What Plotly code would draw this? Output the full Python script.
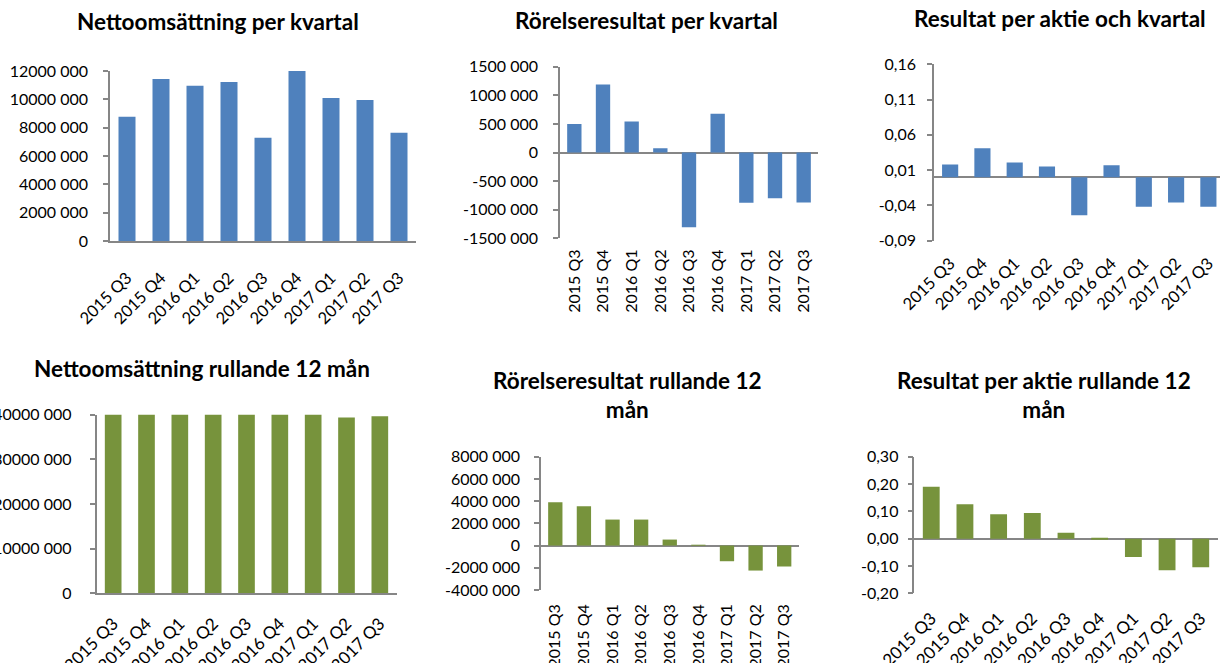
import plotly.graph_objects as go

W, H = 1220, 663

quarters = ["2015 Q3", "2015 Q4", "2016 Q1", "2016 Q2", "2016 Q3",
            "2016 Q4", "2017 Q1", "2017 Q2", "2017 Q3"]

netto_kvartal = [8770000, 11440000, 10960000, 11220000, 7290000,
                 12050000, 10090000, 9950000, 7650000]
rorelse_kvartal = [500000, 1190000, 540000, 75000, -1305000,
                   676000, -880000, -800000, -874000]
eps_kvartal = [0.018, 0.041, 0.021, 0.015, -0.054, 0.017, -0.042, -0.036, -0.042]

netto_rull = [40600000, 41200000, 41600000, 42100000, 40900000,
              41500000, 40700000, 39370000, 39660000]
rorelse_rull = [3910000, 3550000, 2340000, 2340000, 540000,
                -10000, -1410000, -2250000, -1890000]
eps_rull = [0.19, 0.126, 0.089, 0.094, 0.022, -0.002, -0.067, -0.116, -0.105]

y1_vals = [0, 2000000, 4000000, 6000000, 8000000, 10000000, 12000000]
y1_text = ["0", "2000 000", "4000 000", "6000 000", "8000 000", "10000 000", "12000 000"]
y2_vals = [-1500000, -1000000, -500000, 0, 500000, 1000000, 1500000]
y2_text = ["-1500 000", "-1000 000", "-500 000", "0", "500 000", "1000 000", "1500 000"]
y3_vals = [-0.09, -0.04, 0.01, 0.06, 0.11, 0.16]
y3_text = ["-0,09", "-0,04", "0,01", "0,06", "0,11", "0,16"]
y4_vals = [0, 10000000, 20000000, 30000000, 40000000]
y4_text = ["0", "10000 000", "20000 000", "30000 000", "40000 000"]
y5_vals = [-4000000, -2000000, 0, 2000000, 4000000, 6000000, 8000000]
y5_text = ["-4000 000", "-2000 000", "0", "2000 000", "4000 000", "6000 000", "8000 000"]
y6_vals = [-0.2, -0.1, 0.0, 0.1, 0.2, 0.3]
y6_text = ["-0,20", "-0,10", "0,00", "0,10", "0,20", "0,30"]

titles = [
    "Nettoomsättning per kvartal",
    "Rörelseresultat per kvartal",
    "Resultat per aktie och kvartal",
    "Nettoomsättning rullande 12 mån",
    "Rörelseresultat rullande 12<br>mån",
    "Resultat per aktie rullande 12<br>mån",
]

BLUE = "#4F81BD"
GREEN = "#77933C"
AX = "#868686"
FONT = "Lato"


def dx(a, b):
    return [a / W, min(b / W, 1.0)]


def dy(top, bottom):
    return [1 - bottom / H, 1 - top / H]


panels = [
    # data, color, xdom, ydom, yrange, yvals, ytext, xrange, tickangle, xfont, xstandoff, ystandoff
    (netto_kvartal, BLUE, dx(110, 416), dy(71, 241), [0, 12000000], y1_vals, y1_text,
     [-0.5, 8.5], -45, 16.5, 19, 12),
    (rorelse_kvartal, BLUE, dx(560, 818), dy(66.7, 238.3), [-1500000, 1500000], y2_vals, y2_text,
     [-0.5, 8.5], -90, 16, 7, 12),
    (eps_kvartal, BLUE, dx(934, 1220), dy(64.3, 240.7), [-0.09, 0.16], y3_vals, y3_text,
     [-0.5, 8.36], -45, 16.5, 9, 8),
    (netto_rull, GREEN, dx(96.5, 396.5), dy(414.7, 593.3), [0, 40000000], y4_vals, y4_text,
     [-0.5, 8.5], -45, 17, 12, 15),
    (rorelse_rull, GREEN, dx(541, 798.5), dy(456.7, 590), [-4000000, 8000000], y5_vals, y5_text,
     [-0.5, 8.5], -90, 16, 10, 11),
    (eps_rull, GREEN, dx(914.4, 1217.6), dy(456.7, 593.3), [-0.2, 0.3], y6_vals, y6_text,
     [-0.5, 8.5], -45, 17, 11, 6),
]

fig = go.Figure()
layout = dict(
    width=W, height=H,
    margin=dict(l=0, r=0, t=0, b=0),
    paper_bgcolor="white", plot_bgcolor="white",
    showlegend=False, bargap=0.5,
    font=dict(family=FONT, color="#000000"),
)

for i, (vals, col, xd, yd, yr, yv, yt, xr, ang, tf, so, yso) in enumerate(panels, start=1):
    xa = "x" if i == 1 else f"x{i}"
    ya = "y" if i == 1 else f"y{i}"
    fig.add_trace(go.Bar(x=quarters, y=vals, marker=dict(color=col, line=dict(width=0)),
                         xaxis=xa, yaxis=ya, hoverinfo="x+y"))
    has_neg = yr[0] < 0
    layout[f"xaxis{'' if i == 1 else i}"] = dict(
        domain=xd, anchor=ya, range=xr, type="category",
        showline=not has_neg, linecolor=AX, linewidth=1.5,
        ticks="", showgrid=False, zeroline=False,
        tickangle=ang, tickfont=dict(family=FONT, size=tf, color="#000000"),
        ticklabelstandoff=so, automargin=False,
    )
    layout[f"yaxis{'' if i == 1 else i}"] = dict(
        domain=yd, anchor=xa, range=yr,
        tickmode="array", tickvals=yv, ticktext=yt,
        showline=True, linecolor=AX, linewidth=1.5,
        ticks="outside", ticklen=5, tickcolor=AX, tickwidth=1.5,
        showgrid=False, zeroline=has_neg, zerolinecolor=AX, zerolinewidth=1.5,
        tickfont=dict(family=FONT, size=16, color="#000000"),
        automargin=False, ticklabelstandoff=yso,
    )

title_pos = [(218, 22), (646, 20), (1060, 18), (202, 368), (627, 395), (1044, 395)]
annotations = []
for t, (cx, cy) in zip(titles, title_pos):
    annotations.append(dict(
        text=f"<b>{t}</b>", x=cx / W, y=1 - cy / H, xref="paper", yref="paper",
        xanchor="center", yanchor="middle", showarrow=False, align="center",
        font=dict(family=FONT, size=22.5, color="#000000"),
    ))
layout["annotations"] = annotations

fig.update_layout(**layout)
fig.write_html(
    "out.html",
    config={"displayModeBar": False},
    post_script="document.body.style.margin='0px';document.body.style.overflow='hidden';",
)
